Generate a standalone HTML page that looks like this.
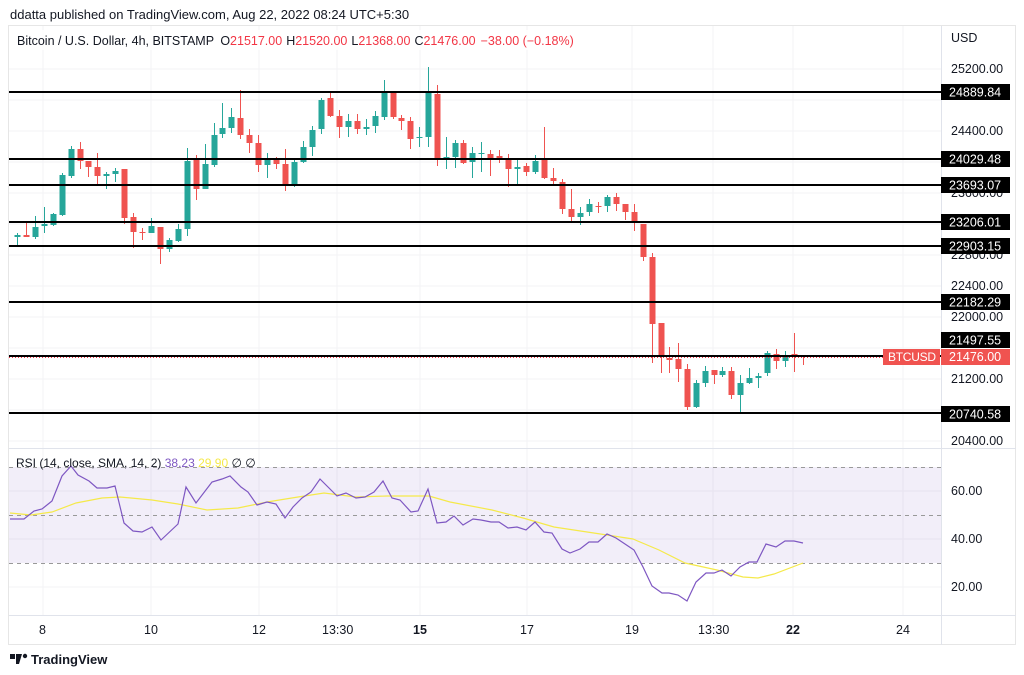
<!DOCTYPE html>
<html><head><meta charset="utf-8">
<style>
html,body{margin:0;padding:0;background:#fff;width:1024px;height:675px;overflow:hidden}
svg{display:block}
text{font-family:"Liberation Sans",sans-serif}
</style></head><body>
<svg id="s" width="1024" height="675" xmlns="http://www.w3.org/2000/svg">
<rect width="1024" height="675" fill="#fff"/>
<text x="10" y="19" font-size="13" fill="#131722">ddatta published on TradingView.com, Aug 22, 2022 08:24 UTC+5:30</text>
<rect x="8.5" y="25.5" width="1007" height="619" fill="none" stroke="#e6e6e6"/>
<g stroke="#f3f3f5" stroke-width="1">
<line x1="43" y1="26" x2="43" y2="615"/><line x1="151" y1="26" x2="151" y2="615"/><line x1="259" y1="26" x2="259" y2="615"/><line x1="337" y1="26" x2="337" y2="615"/><line x1="420" y1="26" x2="420" y2="615"/><line x1="527" y1="26" x2="527" y2="615"/><line x1="632" y1="26" x2="632" y2="615"/><line x1="713" y1="26" x2="713" y2="615"/><line x1="793" y1="26" x2="793" y2="615"/><line x1="903" y1="26" x2="903" y2="615"/>
<line x1="9" y1="69" x2="941" y2="69"/><line x1="9" y1="100" x2="941" y2="100"/><line x1="9" y1="131" x2="941" y2="131"/><line x1="9" y1="162" x2="941" y2="162"/><line x1="9" y1="193" x2="941" y2="193"/><line x1="9" y1="224" x2="941" y2="224"/><line x1="9" y1="255" x2="941" y2="255"/><line x1="9" y1="286" x2="941" y2="286"/><line x1="9" y1="317" x2="941" y2="317"/><line x1="9" y1="348" x2="941" y2="348"/><line x1="9" y1="379" x2="941" y2="379"/><line x1="9" y1="410" x2="941" y2="410"/><line x1="9" y1="441" x2="941" y2="441"/>
<line x1="9" y1="491" x2="941" y2="491"/><line x1="9" y1="539" x2="941" y2="539"/><line x1="9" y1="587" x2="941" y2="587"/>
</g>
<line x1="941.5" y1="26" x2="941.5" y2="645" stroke="#e0e3eb"/>
<line x1="9" y1="448.5" x2="1016" y2="448.5" stroke="#e0e3eb"/>
<line x1="9" y1="615.5" x2="1016" y2="615.5" stroke="#e0e3eb"/>
<rect x="9" y="467" width="932" height="96" fill="#7e57c2" fill-opacity="0.1"/>
<g stroke="#999" stroke-dasharray="4,4" stroke-width="1">
<line x1="9" y1="467.5" x2="941" y2="467.5"/><line x1="9" y1="515.5" x2="941" y2="515.5"/><line x1="9" y1="563.5" x2="941" y2="563.5"/>
</g>
<g id="c"></g>
<g stroke="#000" stroke-width="2">
<line x1="9" y1="92" x2="941" y2="92"/><line x1="9" y1="159" x2="941" y2="159"/><line x1="9" y1="185" x2="941" y2="185"/><line x1="9" y1="222" x2="941" y2="222"/><line x1="9" y1="246" x2="941" y2="246"/><line x1="9" y1="302" x2="941" y2="302"/><line x1="9" y1="356" x2="941" y2="356"/><line x1="9" y1="413" x2="941" y2="413"/>
</g>
<line x1="9" y1="357.5" x2="941" y2="357.5" stroke="#f23645" stroke-dasharray="1,2"/>
<polyline fill="none" stroke="#f5e94a" stroke-width="1.2" points="10,513 31,515 52,512 76,503 102,498 120,497 152,500 178,504 207,510 238,508 267,502 298,497 324,493 356,497 387,496 429,496 450,502 492,510 523,518 554,527 607,535 633,539 659,550 685,563 717,570 743,577 758,578 774,574 803,563"/>
<polyline fill="none" stroke="#7e57c2" stroke-width="1.2" points="10,519 24,519 34,511 42,509 52,501 62,476 71,466 78,475 89,481 97,488 107,488 115,486 124,523 133,531 142,532 152,527 161,540 178,524 186,487 196,503 212,482 222,479 230,476 241,487 248,492 257,505 267,502 276,504 285,518 293,507 302,498 311,492 320,479 328,487 337,496 346,493 356,498 365,497 374,492 383,481 392,498 400,500 411,512 418,511 428,489 437,523 446,522 454,516 463,525 473,519 481,520 491,522 499,522 508,528 517,527 526,530 535,522 544,532 552,533 562,549 570,553 580,549 589,542 598,542 607,534 616,538 625,544 634,550 643,567 652,586 662,593 669,593 678,595 687,601 696,582 706,573 714,573 722,570 731,576 740,567 749,562 757,562 766,544 776,547 785,541 794,541 803,543"/>
<rect x="9" y="30" width="550" height="20" fill="#fff" fill-opacity="0.8"/>
<text x="17" y="45" font-size="12.5" fill="#131722">Bitcoin / U.S. Dollar, 4h, BITSTAMP <tspan dx="3">O</tspan><tspan fill="#f23645">21517.00</tspan><tspan dx="4">H</tspan><tspan fill="#f23645">21520.00</tspan><tspan dx="4">L</tspan><tspan fill="#f23645">21368.00</tspan><tspan dx="4">C</tspan><tspan fill="#f23645">21476.00</tspan><tspan dx="5" fill="#f23645">−38.00 (−0.18%)</tspan></text>
<text x="16" y="467" font-size="12" fill="#131722">RSI (14, close, SMA, 14, 2) <tspan fill="#7e57c2">38.23</tspan> <tspan fill="#f5e94a">29.90</tspan> <tspan>∅ ∅</tspan></text>
<g font-size="12.5" fill="#131722">
<text x="951" y="42">USD</text>
<text x="951" y="73">25200.00</text><text x="951" y="135">24400.00</text><text x="951" y="197">23600.00</text><text x="951" y="259">22800.00</text><text x="951" y="290">22400.00</text><text x="951" y="321">22000.00</text><text x="951" y="383">21200.00</text><text x="951" y="445">20400.00</text>
<text x="951" y="495">60.00</text><text x="951" y="543">40.00</text><text x="951" y="591">20.00</text>
<text x="39" y="634">8</text><text x="144" y="634">10</text><text x="252" y="634">12</text><text x="322" y="634">13:30</text><text x="413" y="634" font-weight="bold">15</text><text x="520" y="634">17</text><text x="625" y="634">19</text><text x="698" y="634">13:30</text><text x="786" y="634" font-weight="bold">22</text><text x="896" y="634">24</text>
</g>
<g id="lb"></g>
<rect x="883" y="349" width="57" height="16" fill="#f05350"/>
<text x="888" y="361" font-size="12" textLength="48" fill="#fff">BTCUSD</text>
<rect x="941" y="349" width="69" height="16" fill="#f05350"/>
<text x="949" y="361" font-size="12.5" fill="#fff">21476.00</text>
<g transform="translate(10,652)"><rect x="0" y="2" width="5" height="5" fill="#131722"/><path d="M6 2h6l-3 10h-3z" fill="#131722"/><circle cx="15" cy="4" r="2.2" fill="#131722"/></g>
<text x="31" y="664" font-size="13" font-weight="bold" fill="#131722">TradingView</text>
</svg>
<script>
var d=[[17,235,237,233,247,'g'],[26,235,237,223,237,'r'],[35,227,237,216,239,'g'],[44,224,226,207,233,'g'],[53,214,225,213,226,'g'],[62,175,215,173,216,'g'],[71,149,176,146,178,'g'],[80,149,161,142,169,'r'],[88,161,167,161,177,'r'],[97,167,176,153,186,'r'],[106,174,176,172,189,'g'],[115,171,174,168,182,'g'],[124,169,218,169,224,'r'],[133,217,232,213,248,'r'],[142,232,233,228,240,'r'],[151,226,233,218,233,'g'],[160,227,249,227,264,'r'],[169,240,249,238,252,'g'],[178,229,241,224,242,'g'],[187,161,229,148,236,'g'],[196,160,189,155,200,'r'],[205,164,189,144,189,'g'],[214,135,165,123,167,'g'],[222,128,134,103,138,'g'],[231,117,128,108,133,'g'],[240,118,135,90,139,'r'],[249,135,143,129,153,'r'],[258,143,165,135,172,'r'],[267,159,165,153,178,'g'],[276,159,164,157,169,'r'],[285,164,186,149,191,'r'],[294,162,186,160,187,'g'],[303,147,162,141,163,'g'],[312,130,147,126,156,'g'],[321,100,129,98,134,'g'],[330,98,116,92,117,'r'],[339,116,127,110,138,'r'],[348,121,127,114,137,'g'],[357,121,129,114,134,'r'],[366,127,129,119,135,'g'],[375,116,126,111,133,'g'],[384,92,117,80,120,'g'],[393,92,117,92,119,'r'],[401,118,121,115,130,'r'],[410,121,139,117,149,'r'],[419,137,138,127,147,'g'],[428,93,137,67,147,'g'],[437,94,159,85,166,'r'],[446,157,159,137,169,'g'],[455,143,157,140,168,'g'],[463,143,163,140,164,'r'],[472,153,162,147,178,'g'],[481,153,154,142,172,'g'],[490,154,159,150,176,'r'],[499,156,158,150,163,'r'],[508,158,169,154,187,'r'],[517,167,169,158,184,'g'],[526,166,172,163,176,'r'],[535,161,172,155,174,'g'],[544,159,178,127,179,'r'],[553,178,181,168,184,'r'],[562,182,209,179,214,'r'],[571,209,217,189,221,'r'],[580,213,217,207,225,'g'],[589,204,212,199,216,'g'],[598,206,207,202,213,'r'],[607,197,206,195,212,'g'],[616,197,204,193,211,'r'],[625,204,212,204,220,'r'],[634,212,223,204,231,'r'],[643,224,257,224,261,'r'],[652,257,324,253,363,'r'],[661,323,357,323,373,'r'],[669,358,360,347,373,'r'],[678,359,369,343,382,'r'],[687,369,407,364,410,'r'],[696,383,407,380,408,'g'],[705,371,383,366,387,'g'],[714,370,375,370,384,'r'],[722,371,375,367,377,'g'],[731,371,395,367,399,'r'],[740,383,395,375,412,'g'],[749,378,383,368,384,'g'],[758,376,378,373,388,'g'],[767,353,373,351,376,'g'],[776,354,361,349,369,'r'],[785,355,361,351,367,'g'],[794,354,355,333,372,'r'],[803,355,357,355,365,'r']];
var g=document.getElementById('c'),h='';
d.forEach(function(c){var col=c[5]=='g'?'#26a69a':'#ef5350';
h+='<line x1="'+(c[0]+.5)+'" x2="'+(c[0]+.5)+'" y1="'+c[3]+'" y2="'+c[4]+'" stroke="'+col+'" stroke-width="1"/>';
h+='<rect x="'+(c[0]-2.5)+'" y="'+c[1]+'" width="6" height="'+Math.max(1,c[2]-c[1])+'" fill="'+col+'"/>';});
g.innerHTML=h;
var L=[[92,'24889.84'],[159,'24029.48'],[185,'23693.07'],[222,'23206.01'],[246,'22903.15'],[302,'22182.29'],[340,'21497.55'],[414,'20740.58']],s='';
L.forEach(function(l){s+='<rect x="941" y="'+(l[0]-8)+'" width="69" height="16" fill="#000"/><text x="949" y="'+(l[0]+4.5)+'" font-size="12.5" fill="#fff">'+l[1]+'</text>';});
document.getElementById('lb').innerHTML=s;
</script>
</body></html>
